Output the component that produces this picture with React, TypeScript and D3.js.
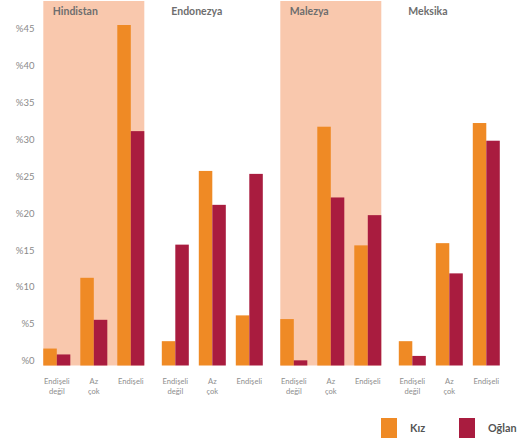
import React from "react";
import * as d3 from "d3";

const countries = ["Hindistan", "Endonezya", "Malezya", "Meksika"];
const shadedCountries = ["Hindistan", "Malezya"];
const categories = ["değil", "azcok", "endiseli"];
const categoryLabels = [["Endişeli", "değil"], ["Az", "çok"], ["Endişeli"]];
const seriesNames = ["Kız", "Oğlan"];
// values per country, per category
const kiz = [
  [2.3, 11.9, 46.2],
  [3.3, 26.4, 6.8],
  [6.3, 32.4, 16.3],
  [3.3, 16.6, 32.9],
];
const oglan = [
  [1.5, 6.2, 31.8],
  [16.4, 21.8, 26.0],
  [0.7, 22.8, 20.4],
  [1.3, 12.5, 30.5],
];
const yTicks = [0, 5, 10, 15, 20, 25, 30, 35, 40, 45];

const W = 527;
const H = 443;
const COLORS = ["#EF8A25", "#A91C3F"];
const SHADE = "#F9C8AD";
const FONT = "Lato, 'Open Sans', sans-serif";

export default function App() {
  const x0 = d3
    .scaleBand<string>()
    .domain(countries)
    .range([34.55, 508.55])
    .paddingInner(0.1477)
    .paddingOuter(0.0739);
  const x1 = d3
    .scaleBand<string>()
    .domain(categories)
    .range([0, x0.bandwidth()])
    .paddingInner(0.27)
    .paddingOuter(0);
  const x2 = d3
    .scaleBand<string>()
    .domain(seriesNames)
    .range([0, x1.bandwidth()]);
  const y = d3.scaleLinear().domain([0, 45]).range([365.5, 365.5 - 45 * 7.37]);
  const data = [kiz, oglan];

  return (
    <svg
      width={W}
      height={H}
      style={{ position: "absolute", left: 0, top: 0, background: "#fff" }}
      fontFamily={FONT}
    >
      {countries.map((c) =>
        shadedCountries.includes(c) ? (
          <rect
            key={"bg" + c}
            x={x0(c)}
            y={1}
            width={x0.bandwidth()}
            height={y(0) - 1}
            fill={SHADE}
          />
        ) : null
      )}
      {countries.map((c) => (
        <text
          key={"t" + c}
          x={(x0(c) as number) + 9.5}
          y={12.5}
          dominantBaseline="middle"
          fontSize={10.5}
          fontWeight={700}
          fill="#6e6e6e"
        >
          {c}
        </text>
      ))}
      {yTicks.map((t) => (
        <text
          key={"y" + t}
          x={34.5}
          y={y(t) - 3.8}
          textAnchor="end"
          dominantBaseline="middle"
          fontSize={9.5}
          fill="#8a8a8a"
        >
          {"%" + t}
        </text>
      ))}
      {countries.map((c, ci) =>
        categories.map((cat, ki) =>
          seriesNames.map((s, si) => {
            const v = data[si][ci][ki];
            const bx = (x0(c) as number) + (x1(cat) as number) + (x2(s) as number);
            return (
              <rect
                key={c + cat + s}
                x={bx}
                y={y(v)}
                width={x2.bandwidth()}
                height={y(0) - y(v)}
                fill={COLORS[si]}
              />
            );
          })
        )
      )}
      {countries.map((c) =>
        categories.map((cat, ki) => {
          const cx = (x0(c) as number) + (x1(cat) as number) + x1.bandwidth() / 2;
          return (
            <text
              key={"l" + c + cat}
              x={cx}
              y={382.5}
              textAnchor="middle"
              fontSize={7.6}
              fill="#8e8e8e"
            >
              {categoryLabels[ki].map((line, li) => (
                <tspan key={li} x={cx} y={382.5 + li * 9.3} dominantBaseline="middle">
                  {line}
                </tspan>
              ))}
            </text>
          );
        })
      )}
      {seriesNames.map((s, si) => {
        const sx = si === 0 ? 381 : 459;
        return (
          <g key={"lg" + s}>
            <rect x={sx} y={418} width={16} height={20} fill={COLORS[si]} />
            <text
              x={sx + 29}
              y={429}
              dominantBaseline="middle"
              fontSize={10.8}
              fontWeight={700}
              fill="#555"
            >
              {s}
            </text>
          </g>
        );
      })}
    </svg>
  );
}
